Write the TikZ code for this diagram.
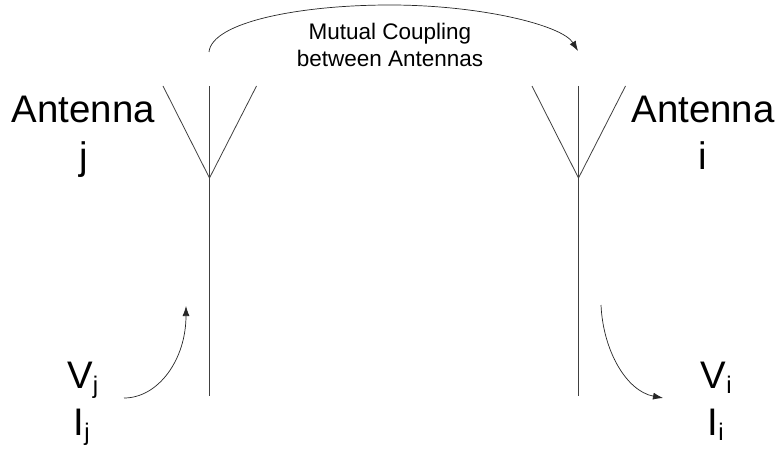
\documentclass[tikz,border=0pt]{standalone}
\usepackage{fontspec}
\setmainfont{Liberation Sans}
\usetikzlibrary{arrows.meta}
\newcommand{\lowsub}[1]{\raisebox{-5pt}{\fontsize{24}{24}\selectfont #1}}
\tikzset{
  wire/.style={draw=black!75,line width=0.8pt},
  flow/.style={draw=black!85,line width=0.7pt,-{Latex[length=10pt,width=7pt]}},
  big/.style={font=\fontsize{38.4}{38.4}\selectfont,inner sep=0pt,anchor=base},
  bigl/.style={big,anchor=base west},
  small/.style={font=\fontsize{22.5}{27}\selectfont,inner sep=0pt,align=center},
}
\begin{document}
\begin{tikzpicture}[x=1pt,y=-1pt]
\useasboundingbox (0,0) rectangle (778,449);
\fill[white] (0,0) rectangle (778,449);
% antenna j
\coordinate (jt) at (209.5,86); \coordinate (jf) at (209.5,178); \coordinate (jb) at (209.5,396);
\coordinate (jl) at (163,86); \coordinate (jr) at (256.5,86);
\draw[wire] (jt) -- (jb);
\draw[wire] (jl) -- (jf) -- (jr);
% antenna i
\coordinate (it) at (578.5,86); \coordinate (if) at (578.5,178); \coordinate (ib) at (578.5,396);
\coordinate (il) at (532,86); \coordinate (ir) at (625.5,86);
\draw[wire] (it) -- (ib);
\draw[wire] (il) -- (if) -- (ir);
% labels
\node[big] (aj) at (83.5,122.5) {Antenna};
\node[big] (lj) at (83.5,169) {j};
\node[big] (ai) at (703,122.5) {Antenna};
\node[big] (li) at (703,169) {i};
\node[small] (mc) at (390,45) {Mutual Coupling\\between Antennas};
\node[bigl] (vj) at (67,388) {V\lowsub{j}};
\node[bigl] (cj) at (73.5,435) {I\lowsub{j}};
\node[bigl] (vi) at (700.5,388) {V\lowsub{i}};
\node[bigl] (ci) at (707.5,435) {I\lowsub{i}};
% arrows
\coordinate (c1) at (209,52); \coordinate (c2) at (390,5); \coordinate (c3) at (578,51);
\draw[flow] (c1) .. controls (212,22) and (300,5) .. (c2) .. controls (480,5) and (562,25) .. (c3);
\coordinate (a1) at (124,398); \coordinate (a2) at (186,306);
\draw[flow] (a1) .. controls (158,398) and (186,360) .. (a2);
\coordinate (b1) at (601,305); \coordinate (b2) at (663,398);
\draw[flow] (b1) .. controls (603,350) and (626,391) .. (b2);
\end{tikzpicture}
\end{document}
